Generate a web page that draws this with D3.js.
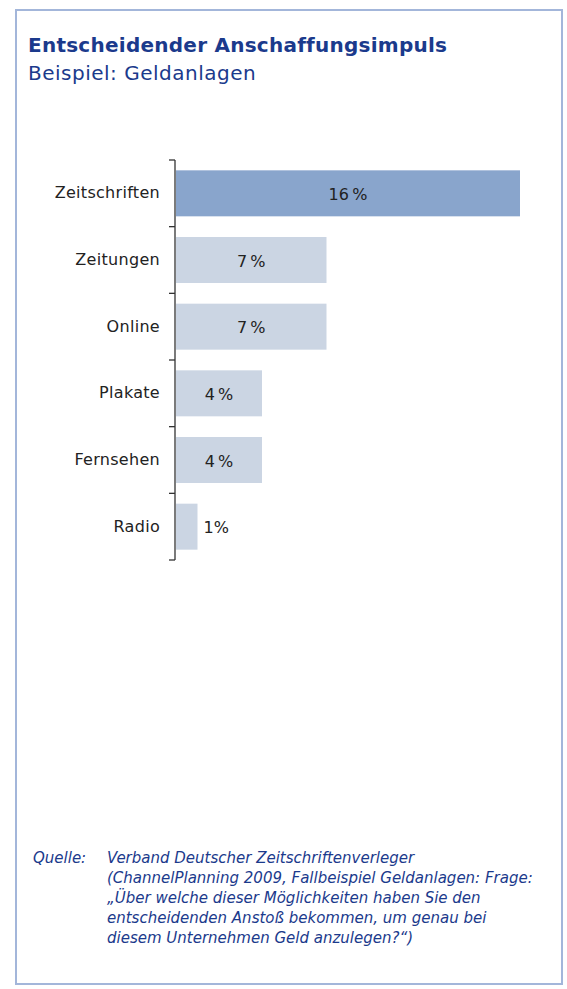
<!DOCTYPE html>
<html>
<head>
<meta charset="utf-8">
<script src="https://cdn.jsdelivr.net/npm/d3@7"></script>
<style>
  html, body { margin: 0; padding: 0; background: #fff; }
  svg { display: block; }
  text { font-family: "DejaVu Sans", "Liberation Sans", sans-serif; }
</style>
</head>
<body>
<svg id="chart" width="567" height="989"></svg>
<script>
// Media channels and share of respondents naming them as the decisive impulse (%)
const categories = ["Zeitschriften", "Zeitungen", "Online", "Plakate", "Fernsehen", "Radio"];
const values = [16, 7, 7, 4, 4, 1];
const highlighted = ["Zeitschriften"];

const title = "Entscheidender Anschaffungsimpuls";
const subtitle = "Beispiel: Geldanlagen";
const sourceLabel = "Quelle:";
const sourceLines = [
  "Verband Deutscher Zeitschriftenverleger",
  "(ChannelPlanning 2009, Fallbeispiel Geldanlagen: Frage:",
  "\u201EÜber welche dieser Möglichkeiten haben Sie den",
  "entscheidenden Anstoß bekommen, um genau bei",
  "diesem Unternehmen Geld anzulegen?\u201C)"
];

const svg = d3.select("#chart");
const blue = "#1b3a8c";

// frame
svg.append("rect")
  .attr("x", 16).attr("y", 10)
  .attr("width", 546).attr("height", 974)
  .attr("fill", "none")
  .attr("stroke", "#a3b6da")
  .attr("stroke-width", 2);

// headings
svg.append("text")
  .attr("x", 28).attr("y", 52)
  .attr("fill", blue)
  .attr("font-size", 20)
  .attr("font-weight", "bold")
  .attr("letter-spacing", 0.25)
  .text(title);
svg.append("text")
  .attr("x", 28).attr("y", 80)
  .attr("fill", blue)
  .attr("font-size", 20)
  .attr("letter-spacing", 0.5)
  .text(subtitle);

// scales
const x0 = 176;
const x = d3.scaleLinear().domain([0, 16]).range([x0, 520]);
const y = d3.scaleBand()
  .domain(categories)
  .range([160, 560])
  .paddingInner(0.31)
  .paddingOuter(0.155);

const g = svg.append("g");

// bars
g.selectAll("rect.bar")
  .data(categories)
  .join("rect")
  .attr("class", "bar")
  .attr("x", x(0))
  .attr("y", d => y(d))
  .attr("width", (d, i) => x(values[i]) - x(0))
  .attr("height", y.bandwidth())
  .attr("fill", d => highlighted.includes(d) ? "#89a5cc" : "#cbd5e3");

// value labels: inside the bar when it is wide enough, otherwise just to its right
g.selectAll("text.val")
  .data(categories)
  .join("text")
  .attr("class", "val")
  .attr("font-size", 16)
  .attr("fill", "#222")
  .attr("dominant-baseline", "central")
  .attr("y", d => y(d) + y.bandwidth() / 2 + 1)
  .each(function (d, i) {
    const w = x(values[i]) - x(0);
    const t = d3.select(this);
    if (w > 50) {
      t.attr("x", (x(0) + x(values[i])) / 2).attr("text-anchor", "middle")
        .text(values[i] + "\u2009%");
    } else {
      t.attr("x", x(values[i]) + 6).attr("text-anchor", "start")
        .text(values[i] + "%");
    }
  });

// category axis with ticks at the band boundaries
const axis = d3.axisLeft(y).tickSize(0).tickPadding(15);
const axisG = svg.append("g")
  .attr("transform", `translate(${x0 - 1},0)`)
  .call(axis);
axisG.select(".domain").remove();
axisG.selectAll("text")
  .attr("font-size", 16)
  .attr("fill", "#222")
  .attr("letter-spacing", 0.3)
  .attr("font-family", "DejaVu Sans, Liberation Sans, sans-serif");

const step = y.step();
const bounds = d3.range(categories.length + 1).map(i => 160 + i * step);
svg.append("line")
  .attr("x1", x0 - 1).attr("x2", x0 - 1)
  .attr("y1", 160).attr("y2", 560)
  .attr("stroke", "#333").attr("stroke-width", 1.3);
svg.selectAll("line.tick")
  .data(bounds)
  .join("line")
  .attr("class", "tick")
  .attr("x1", x0 - 7).attr("x2", x0 - 1)
  .attr("y1", d => d).attr("y2", d => d)
  .attr("stroke", "#333").attr("stroke-width", 1.3);

// source note
const src = svg.append("g")
  .attr("fill", blue)
  .attr("font-size", 15)
  .attr("font-style", "italic");
src.append("text").attr("x", 33).attr("y", 863).text(sourceLabel);
src.selectAll("text.line")
  .data(sourceLines)
  .join("text")
  .attr("class", "line")
  .attr("x", 107)
  .attr("y", (d, i) => 863 + i * 20)
  .text(d => d);
</script>
</body>
</html>
